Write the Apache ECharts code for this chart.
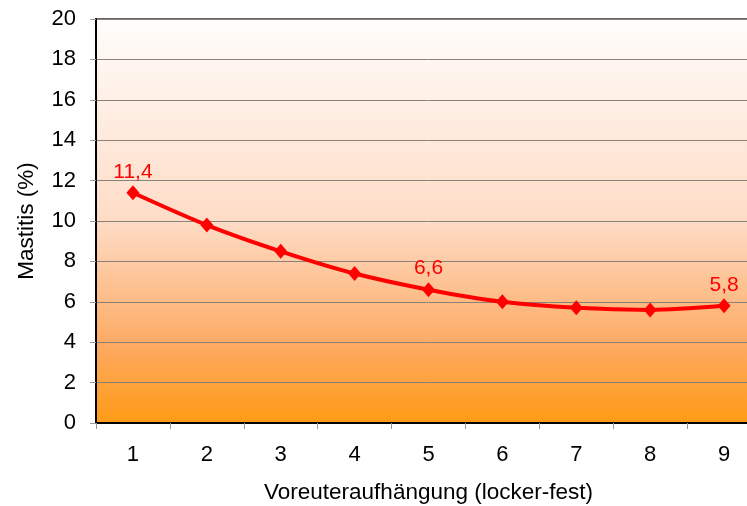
<!DOCTYPE html>
<html>
<head>
<meta charset="utf-8">
<script src="https://cdn.jsdelivr.net/npm/echarts@6/dist/echarts.min.js"></script>
<style>
  html, body { margin: 0; padding: 0; background: #fff; overflow: hidden; }
  /* the plot area runs past the right edge of the picture */
  #chart { width: 761px; height: 506px; }
</style>
</head>
<body>
<div id="chart"></div>
<script>
  // Mastitis in Abhängigkeit der Voreuteraufhängung
  const categories = ['1', '2', '3', '4', '5', '6', '7', '8', '9'];
  const mastitis = [11.4, 9.8, 8.5, 7.4, 6.6, 6.0, 5.7, 5.6, 5.8];
  const labelledIdx = [0, 4, 8]; // nur diese Punkte haben einen Wert-Label

  const fnt = '"Liberation Sans", Arial, sans-serif';

  const seriesData = mastitis.map((v, i) => ({
    value: v,
    label: { show: labelledIdx.indexOf(i) >= 0 }
  }));

  const chart = echarts.init(document.getElementById('chart'));
  chart.setOption({
    animation: false,
    textStyle: { fontFamily: fnt },
    grid: {
      left: 96, right: 0, top: 19, bottom: 83,
      outerBoundsMode: 'none',
      containLabel: false,
      show: true,
      borderColor: '#333',
      borderWidth: 1.5,
      backgroundColor: new echarts.graphic.LinearGradient(0, 0, 0, 1, [
        { offset: 0, color: '#fffdfb' },
        { offset: 0.5, color: '#fedcc6' },
        { offset: 0.8, color: '#fdab65' },
        { offset: 1, color: '#ff9a14' }
      ])
    },
    xAxis: {
      type: 'category',
      data: categories,
      boundaryGap: true,
      name: 'Voreuteraufhängung (locker-fest)',
      nameLocation: 'middle',
      nameGap: 58,
      nameTextStyle: { fontSize: 22.5, color: '#000', fontFamily: fnt },
      axisLine: { lineStyle: { color: '#000', width: 2 } },
      axisTick: { show: true, length: 6, lineStyle: { color: '#999' } },
      axisLabel: { fontSize: 22, color: '#000', margin: 21, fontFamily: fnt },
      splitLine: { show: false }
    },
    yAxis: {
      type: 'value',
      min: 0, max: 20, interval: 2,
      name: 'Mastitis (%)',
      nameLocation: 'middle',
      nameGap: 58,
      nameTextStyle: { fontSize: 22.5, color: '#000', fontFamily: fnt },
      axisLine: { show: true, lineStyle: { color: '#000', width: 2 } },
      axisTick: { show: true, length: 6, lineStyle: { color: '#999' } },
      axisLabel: { fontSize: 22, color: '#000', margin: 20, fontFamily: fnt },
      splitLine: { lineStyle: { color: '#8c8178', width: 1 } }
    },
    series: [{
      type: 'line',
      data: seriesData,
      smooth: 0.3,
      symbol: 'diamond',
      symbolSize: [13, 15],
      itemStyle: { color: '#ff0000' },
      lineStyle: { color: '#ff0000', width: 4 },
      label: {
        position: 'top',
        distance: 3,
        color: '#ff0000',
        fontSize: 21,
        fontFamily: fnt,
        formatter: p => String(p.value).replace('.', ',').replace(/^(\d+)$/, '$1,0')
      }
    }]
  });
</script>
</body>
</html>
